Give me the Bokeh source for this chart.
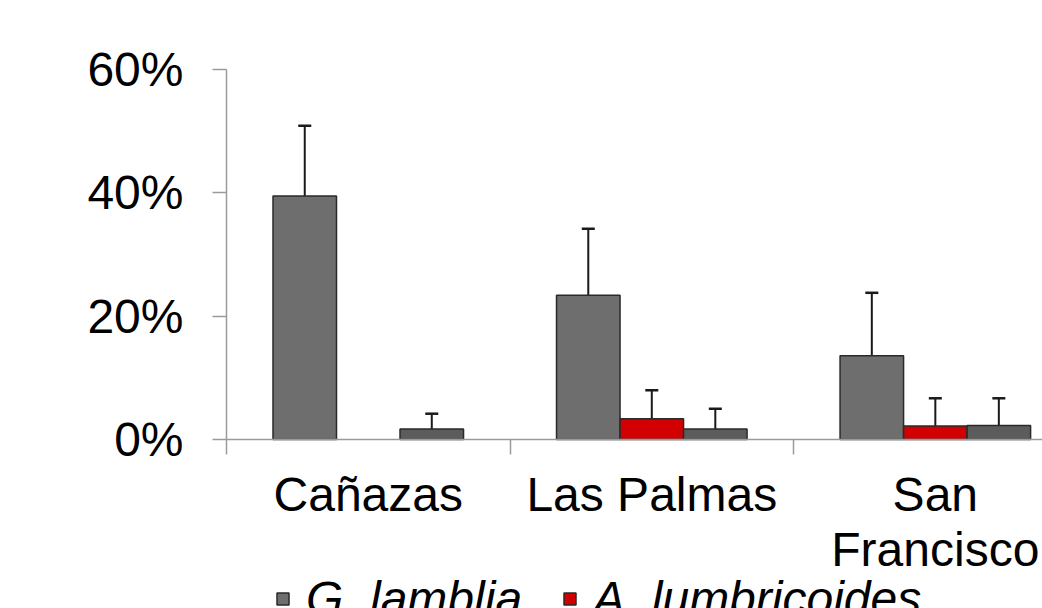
from bokeh.plotting import figure
from bokeh.models import (Range1d, FixedTicker, PrintfTickFormatter, ColumnDataSource,
                          Whisker, TeeHead, Legend, LegendItem)
from bokeh.embed import file_html
from bokeh.resources import INLINE

# ---- data (percent) ----
sites = ["Cañazas", "Las Palmas", "San\nFrancisco"]
g_lamblia = [39.5, 23.4, 13.6]
g_lamblia_err = [11.4, 10.8, 10.2]
a_lumbricoides = [0.0, 3.4, 2.2]
a_lumbricoides_err = [0.0, 4.6, 4.5]
third_species = [1.7, 1.7, 2.3]
third_species_err = [2.5, 3.3, 4.4]
y_ticks = [0, 20, 40, 60]

FONT = "Liberation Sans"
BAR_W = 0.224
offsets = [-BAR_W, 0.0, BAR_W]

p = figure(width=1042, height=608, output_backend="svg", toolbar_location=None,
           x_range=Range1d(-0.5, 2.378), y_range=Range1d(-27.38, 60))
p.min_border_left = 226
p.min_border_right = 0
p.min_border_top = 69
p.min_border_bottom = 0
p.outline_line_color = None
p.grid.visible = False
p.background_fill_color = "white"


def make_source(vals, errs, off, full_lower):
    xs, tops, up, lo = [], [], [], []
    for i, (v, e) in enumerate(zip(vals, errs)):
        if v <= 0:
            continue
        xs.append(i + off)
        tops.append(v)
        up.append(v + e)
        lo.append(max(v - e, 0) if full_lower else 0)
    return ColumnDataSource(dict(x=xs, top=tops, upper=up, lower=lo))


src_g = make_source(g_lamblia, g_lamblia_err, offsets[0], True)
src_a = make_source(a_lumbricoides, a_lumbricoides_err, offsets[1], False)
src_t = make_source(third_species, third_species_err, offsets[2], False)

r_g = p.vbar(x="x", top="top", bottom=0, width=BAR_W, source=src_g,
             fill_color="#6e6e6e", line_color="#2a2a2a", line_width=1.5)
r_a = p.vbar(x="x", top="top", bottom=0, width=BAR_W, source=src_a,
             fill_color="#d20000", line_color="#2a2a2a", line_width=1.5)
r_t = p.vbar(x="x", top="top", bottom=0, width=BAR_W, source=src_t,
             fill_color="#5c5c5c", line_color="#2a2a2a", line_width=1.5)

p.add_layout(Whisker(source=src_g, base="x", upper="upper", lower="lower",
                     line_color="#1a1a1a", line_width=2,
                     upper_head=TeeHead(size=13, line_width=2.5, line_color="#1a1a1a"),
                     lower_head=TeeHead(size=13, line_width=2.5, line_color="#1a1a1a")))
for s in (src_a, src_t):
    p.add_layout(Whisker(source=s, base="x", upper="upper", lower="lower",
                         line_color="#1a1a1a", line_width=2,
                         upper_head=TeeHead(size=13, line_width=2.5, line_color="#1a1a1a"),
                         lower_head=None))

# ---- axes ----
yax = p.yaxis[0]
yax.ticker = FixedTicker(ticks=y_ticks)
yax.bounds = (-2.43, 60)
yax.formatter = PrintfTickFormatter(format="%d%%")
yax.axis_line_color = "#9a9a9a"
yax.axis_line_width = 1.5
yax.major_tick_line_color = "#9a9a9a"
yax.major_tick_line_width = 1.5
yax.major_tick_out = 14
yax.major_tick_in = 0
yax.minor_tick_line_color = None
yax.major_label_text_font = FONT
yax.major_label_text_font_size = "48px"
yax.major_label_text_color = "black"
yax.major_label_standoff = 29

xax = p.xaxis[0]
xax.fixed_location = 0
xax.ticker = FixedTicker(ticks=[0, 1, 2], minor_ticks=[0.5, 1.5])
xax.major_label_overrides = {i: s for i, s in enumerate(sites)}
xax.axis_line_color = "#9a9a9a"
xax.axis_line_width = 1.5
xax.major_tick_line_color = None
xax.minor_tick_line_color = "#9a9a9a"
xax.minor_tick_line_width = 1.5
xax.minor_tick_out = 15
xax.minor_tick_in = 0
xax.major_label_text_font = FONT
xax.major_label_text_font_size = "48px"
xax.major_label_text_line_height = 1.05
xax.major_label_text_color = "black"
xax.major_label_standoff = 13

# ---- legend (partly cut off at the bottom) ----
legend = Legend(items=[LegendItem(label="G. lamblia", renderers=[r_g]),
                       LegendItem(label="A. lumbricoides", renderers=[r_a])],
                orientation="horizontal", location=(49, -18),
                label_text_font=FONT, label_text_font_style="italic",
                label_text_font_size="48px", label_text_color="black",
                glyph_width=15, glyph_height=15, spacing=40, label_standoff=16,
                padding=0, margin=0, border_line_color=None,
                background_fill_alpha=0)
p.add_layout(legend)

open("out.html", "w").write(file_html(p, INLINE))
